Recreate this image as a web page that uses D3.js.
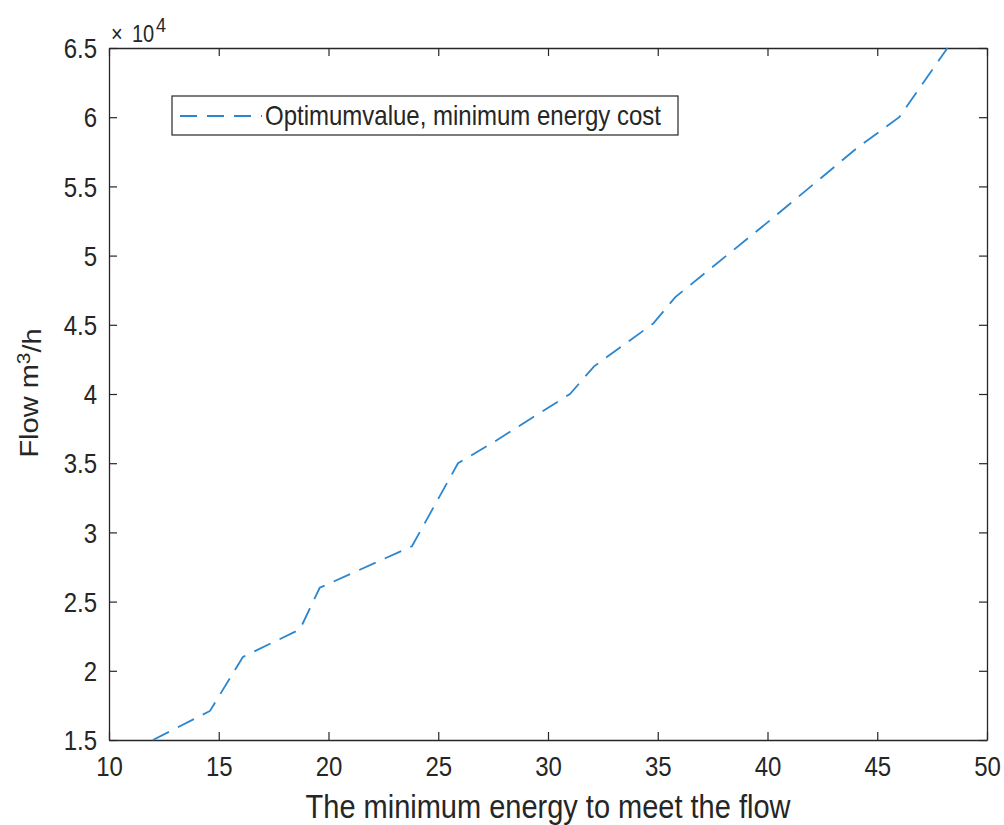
<!DOCTYPE html>
<html>
<head>
<meta charset="utf-8">
<script src="https://cdn.jsdelivr.net/npm/d3@7"></script>
<style>
  body { margin: 0; background: #fff; }
  text { font-family: "Liberation Sans", Arial, Helvetica, sans-serif; fill: #262626; }
</style>
</head>
<body>
<div id="chart"></div>
<script>
// data
var energy = [12.0, 14.6, 16.1, 18.7, 19.6, 23.8, 25.9, 27.5, 31.0, 32.1, 34.8, 35.8, 40.0, 44.1, 46.0, 48.2];
var flow = [15000, 17100, 21000, 23000, 26000, 29000, 35000, 36500, 40000, 42000, 45100, 47000, 52400, 57800, 60000, 65000];
var xTicks = [10, 15, 20, 25, 30, 35, 40, 45, 50];
var yTicks = [15000, 20000, 25000, 30000, 35000, 40000, 45000, 50000, 55000, 60000, 65000];
var seriesName = "Optimumvalue, minimum energy cost";

var stretch = 1.16; // the picture is a bit taller than wide

var margin = { top: 48, right: 17, bottom: 85, left: 109 },
    width = 1004 - margin.left - margin.right,
    height = 825 - margin.top - margin.bottom;

var x = d3.scaleLinear().domain([10, 50]).range([0, width]);
var y = d3.scaleLinear().domain([15000, 65000]).range([height, 0]);

var svg = d3.select("#chart").append("svg")
    .attr("width", 1004)
    .attr("height", 825)
    .append("g")
    .attr("transform", "translate(" + margin.left + "," + margin.top + ")");

function fmtY(d) { return d3.format("")(+(d / 1e4).toFixed(1)); }

// bottom axis (ticks pointing inwards)
var gx = svg.append("g")
    .attr("transform", "translate(0," + height + ")")
    .call(d3.axisBottom(x).tickValues(xTicks).tickSizeInner(-8).tickSizeOuter(0).tickPadding(0));
// top mirror
svg.append("g")
    .call(d3.axisTop(x).tickValues(xTicks).tickSizeInner(-8).tickSizeOuter(0).tickFormat(""));
// left axis
var gy = svg.append("g")
    .call(d3.axisLeft(y).tickValues(yTicks).tickSizeInner(-8).tickSizeOuter(0).tickPadding(12).tickFormat(fmtY));
// right mirror
svg.append("g")
    .attr("transform", "translate(" + width + ",0)")
    .call(d3.axisRight(y).tickValues(yTicks).tickSizeInner(-8).tickSizeOuter(0).tickFormat(""));

svg.selectAll(".domain").attr("stroke", "#262626").attr("stroke-width", 1.3);
svg.selectAll(".tick line").attr("stroke", "#262626").attr("stroke-width", 1.2);

gx.selectAll("text")
    .style("font-size", "24px")
    .attr("y", 0).attr("dy", null)
    .attr("transform", "translate(0,36) scale(1," + stretch + ")");
gy.selectAll("text")
    .style("font-size", "24px")
    .attr("dy", "0.35em")
    .attr("transform", "scale(1," + stretch + ")");

// the line
var line = d3.line()
    .x(function (d, i) { return x(energy[i]); })
    .y(function (d, i) { return y(flow[i]); });

svg.append("path")
    .datum(flow)
    .attr("d", line)
    .attr("fill", "none")
    .attr("stroke", "#2b86cf")
    .attr("stroke-width", 1.8)
    .attr("stroke-dasharray", "18,10");

// x label
svg.append("text")
    .attr("text-anchor", "middle")
    .attr("transform", "translate(" + (width / 2) + "," + (height + 78) + ") scale(1," + stretch + ")")
    .style("font-size", "29px")
    .text("The minimum energy to meet the flow");

// y label
var yl = svg.append("text")
    .attr("text-anchor", "middle")
    .attr("transform", "translate(" + (-71) + "," + (height / 2 - 1) + ") scale(1," + stretch + ") rotate(-90)")
    .style("font-size", "25px");
yl.append("tspan").text("Flow m");
yl.append("tspan").attr("dy", "-0.45em").style("font-size", "18px").text("3");
yl.append("tspan").attr("dy", "0.45em").text("/h");

// exponent label
svg.append("text")
    .attr("transform", "translate(2,-6) scale(1," + stretch + ")")
    .style("font-size", "20px")
    .text("\u00d7");
svg.append("text")
    .attr("transform", "translate(23,-6) scale(1," + stretch + ")")
    .style("font-size", "20px")
    .text("10");
svg.append("text")
    .attr("transform", "translate(47,-16) scale(1," + stretch + ")")
    .style("font-size", "18px")
    .text("4");

// legend
var lg = svg.append("g").attr("transform", "translate(63,48)");
lg.append("rect")
    .attr("width", 506).attr("height", 39)
    .attr("fill", "#fff").attr("stroke", "#262626").attr("stroke-width", 1.2);
lg.append("line")
    .attr("x1", 8).attr("x2", 90).attr("y1", 20).attr("y2", 20)
    .attr("stroke", "#2b86cf").attr("stroke-width", 1.8)
    .attr("stroke-dasharray", "17,10");
lg.append("text")
    .attr("transform", "translate(93,29) scale(1," + stretch + ")")
    .style("font-size", "24px")
    .text(seriesName);
</script>
</body>
</html>
